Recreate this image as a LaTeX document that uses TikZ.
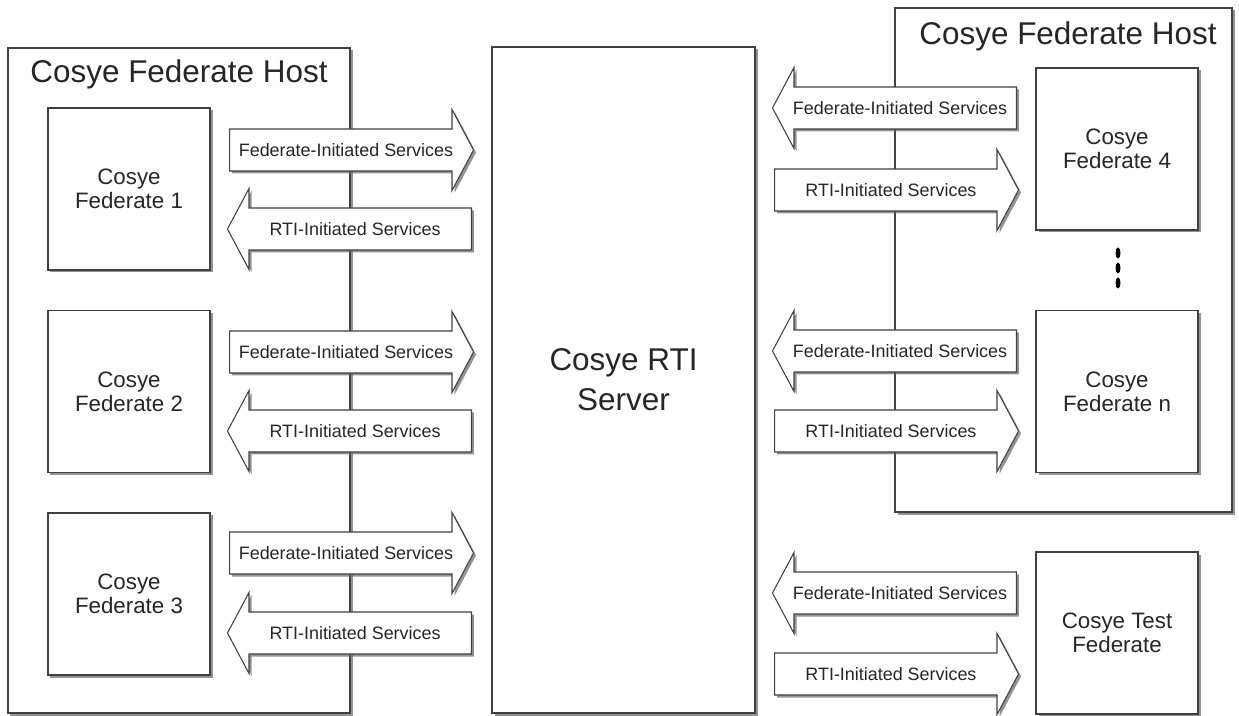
\documentclass[tikz,border=0pt]{standalone}
\usepackage{fontspec}
\setmainfont{Liberation Sans}
\usetikzlibrary{
    shapes.arrows,
    shadows,
}

\begin{document}
\begin{tikzpicture}[x=0.2mm, y=-0.2mm,
    every node/.style={text=black!85},
    boxshadow/.style={drop shadow={shadow xshift=0.5mm, shadow yshift=-0.5mm,
        fill=black!60, opacity=0.7}},
    hostbox/.style={draw=black!75, fill=white, line width=0.6pt, boxshadow},
    fedbox/.style={hostbox, minimum width=32.4mm, minimum height=32.4mm,
        align=center, font=\fontsize{12.7}{13.7}\selectfont},
    titletext/.style={font=\fontsize{17.9}{21}\selectfont, anchor=base},
    svcarrow/.style={single arrow, draw=black!75, fill=white, line width=0.6pt,
        boxshadow, single arrow head extend=3.9mm, single arrow tip angle=124,
        minimum height=48.8mm, inner xsep=2pt, inner ysep=8pt,
        text height=7.3pt, text depth=0pt, font=\fontsize{10.2}{12}\selectfont,
        anchor=tail},
    rightarrow/.style={svcarrow},
    leftarrow/.style={svcarrow, shape border rotate=180},
]

\useasboundingbox (0, 0) rectangle (1239, 716);

% =============================================================================
% Hosts and RTI server
% =============================================================================

% Left federate host
\node[hostbox, minimum width=68.4mm, minimum height=133mm] (lhost) at (179, 380.5) {};
\node[titletext] (lhosttitle) at (179, 83) {Cosye Federate Host};

% Right federate host
\node[hostbox, minimum width=67.4mm, minimum height=100.8mm] (rhost) at (1063.5, 260) {};
\node[titletext] (rhosttitle) at (1068, 45) {Cosye Federate Host};

% RTI server
\node[hostbox, minimum width=52.6mm, minimum height=133.2mm,
      align=center, font=\fontsize{17.9}{22.8}\selectfont]
    (server) at (623.5, 380) {Cosye RTI\\Server};

% =============================================================================
% Federates
% =============================================================================
\node[fedbox] (fed1) at (129, 189) {Cosye\\Federate 1};
\node[fedbox] (fed2) at (129, 391.5) {Cosye\\Federate 2};
\node[fedbox] (fed3) at (129, 594) {Cosye\\Federate 3};

\node[fedbox] (fed4) at (1117, 149) {Cosye\\Federate 4};
\node[fedbox] (fedn) at (1117, 391.5) {Cosye\\Federate n};
\node[fedbox] (testfed) at (1117, 633) {Cosye Test\\Federate};

% Dots between federate 4 and federate n
\foreach \y in {253, 268, 283}
    \fill[black] (1118, \y) ellipse (2.5 and 5.5);

% =============================================================================
% Service arrows (placed by their tails)
% =============================================================================

% Left side: federates to server
\node[rightarrow] (fis1) at (229, 150) {Federate-Initiated Services};
\node[leftarrow]  (ris1) at (472, 229) {RTI-Initiated Services};
\node[rightarrow] (fis2) at (229, 352) {Federate-Initiated Services};
\node[leftarrow]  (ris2) at (472, 431) {RTI-Initiated Services};
\node[rightarrow] (fis3) at (229, 553) {Federate-Initiated Services};
\node[leftarrow]  (ris3) at (472, 633) {RTI-Initiated Services};

% Right side: server to federates
\node[leftarrow]  (fis4) at (1017, 108) {Federate-Initiated Services};
\node[rightarrow] (ris4) at (774, 190) {RTI-Initiated Services};
\node[leftarrow]  (fisn) at (1017, 351) {Federate-Initiated Services};
\node[rightarrow] (risn) at (774, 431) {RTI-Initiated Services};
\node[leftarrow]  (fist) at (1017, 593) {Federate-Initiated Services};
\node[rightarrow] (rist) at (774, 674) {RTI-Initiated Services};

\end{tikzpicture}
\end{document}
